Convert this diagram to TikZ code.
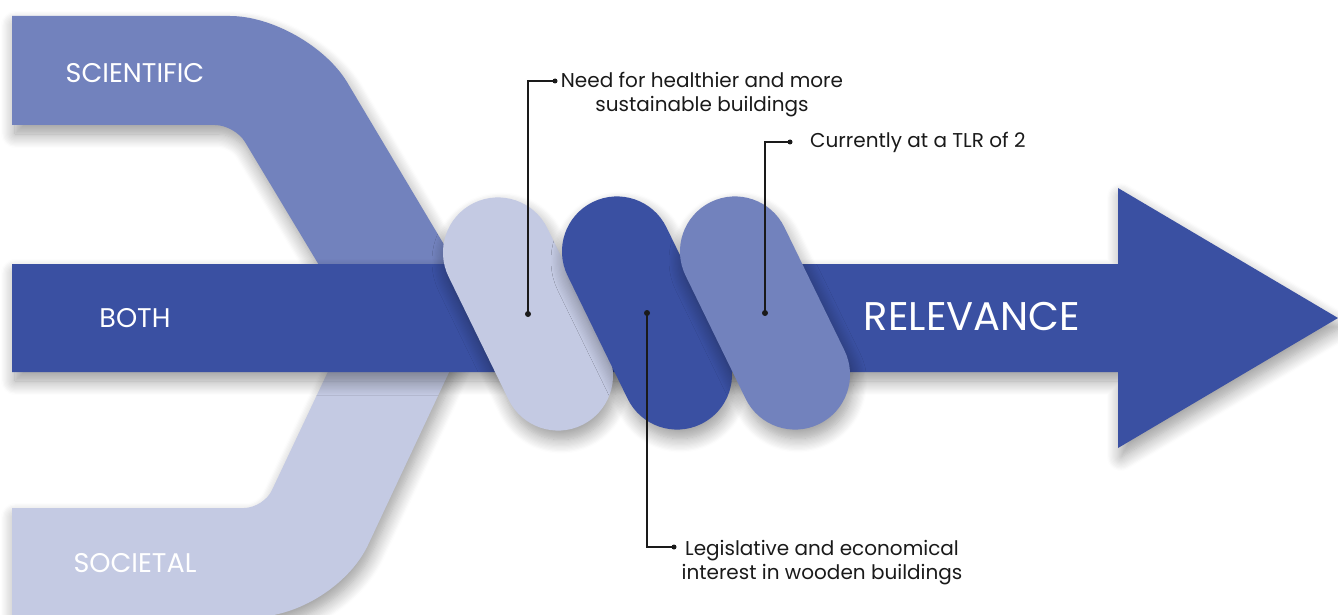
\documentclass[tikz,border=0pt]{standalone}
\usepackage{fontspec}
\setmainfont{Poppins}
\usetikzlibrary{shapes.misc,shadows.blur}

\definecolor{navy}{HTML}{3A50A2}
\definecolor{midblue}{HTML}{7282BD}
\definecolor{paleblue}{HTML}{C4CAE3}
\definecolor{ink}{HTML}{1A1A1A}

\tikzset{
  softshadow/.style={blur shadow={shadow xshift=3pt, shadow yshift=-9pt,
      shadow blur radius=14pt, shadow blur steps=12, shadow opacity=40}},
  pill/.style={rounded rectangle, rotate=-64, minimum width=247pt,
      minimum height=110pt, inner sep=0pt, draw=none, softshadow},
  bandlabel/.style={text=white, anchor=base, inner sep=0pt,
      font=\fontsize{27}{32}\selectfont},
  callout/.style={text=ink, inner sep=0pt, align=center,
      font=\fontsize{20}{24}\selectfont},
  leader/.style={draw=ink, line width=1.3pt},
  pin/.style={fill=ink}
}

\begin{document}
\begin{tikzpicture}[x=1pt, y=-1pt]
  \useasboundingbox (0,0) rectangle (1338,615);
  \clip (0,0) rectangle (1338,615);

  % upper stream
  \fill[midblue, softshadow]
    (12,16) -- (230,16) .. controls (272,16) and (325,46) .. (347,82)
    -- (489,320) -- (352,320)
    -- (245,142) .. controls (239.5,132.6) and (226,125) .. (215,125)
    -- (12,125) -- cycle;

  % lower stream
  \fill[paleblue, softshadow]
    (12,508) -- (244,508) .. controls (255,508) and (267.6,499.9) .. (272,490)
    -- (376,270) -- (497,270)
    -- (368,545) .. controls (349,585) and (298,617) .. (254,617)
    -- (12,617) -- (12,640) -- cycle;

  % main arrow
  \fill[navy, softshadow]
    (12,264) -- (1118,264) -- (1118,188) -- (1338,318) -- (1118,448)
    -- (1118,372) -- (12,372) -- cycle;

  % the three links
  \node[pill, fill=paleblue] (p1) at (528,314) {};
  \node[pill, fill=navy]     (p2) at (647,313) {};
  \node[pill, fill=midblue]  (p3) at (765,313) {};

  % band labels
  \node[bandlabel] (sci) at (135,83)  {SCIENTIFIC};
  \node[bandlabel] (both) at (135,327) {BOTH};
  \node[bandlabel] (soc) at (135,572) {SOCIETAL};
  \node[bandlabel, font=\fontsize{40}{46}\selectfont] (rel) at (972,330) {RELEVANCE};

  % callout texts (base anchor sits on the last line)
  \node[callout, anchor=base] (t1) at (702,112)
    {Need for healthier and more\\sustainable buildings};
  \node[callout, anchor=base west] (t2) at (810,147)
    {Currently at a TLR of 2};
  \node[callout, anchor=base] (t3) at (822,579)
    {Legislative and economical\\interest in wooden buildings};

  % leader end points
  \coordinate (e1) at (555,81);
  \coordinate (e2) at (790,142);
  \coordinate (e3) at (674,547);

  % leaders
  \draw[leader] (p1.center) |- (e1);
  \draw[leader] (p3.center) |- (e2);
  \draw[leader] (p2.center) |- (e3);

  \fill[pin] (p1.center) circle (3);
  \fill[pin] (p2.center) circle (3);
  \fill[pin] (p3.center) circle (3);
  \fill[pin] (e1) circle (2.5);
  \fill[pin] (e2) circle (2.5);
  \fill[pin] (e3) circle (2.5);
\end{tikzpicture}
\end{document}
